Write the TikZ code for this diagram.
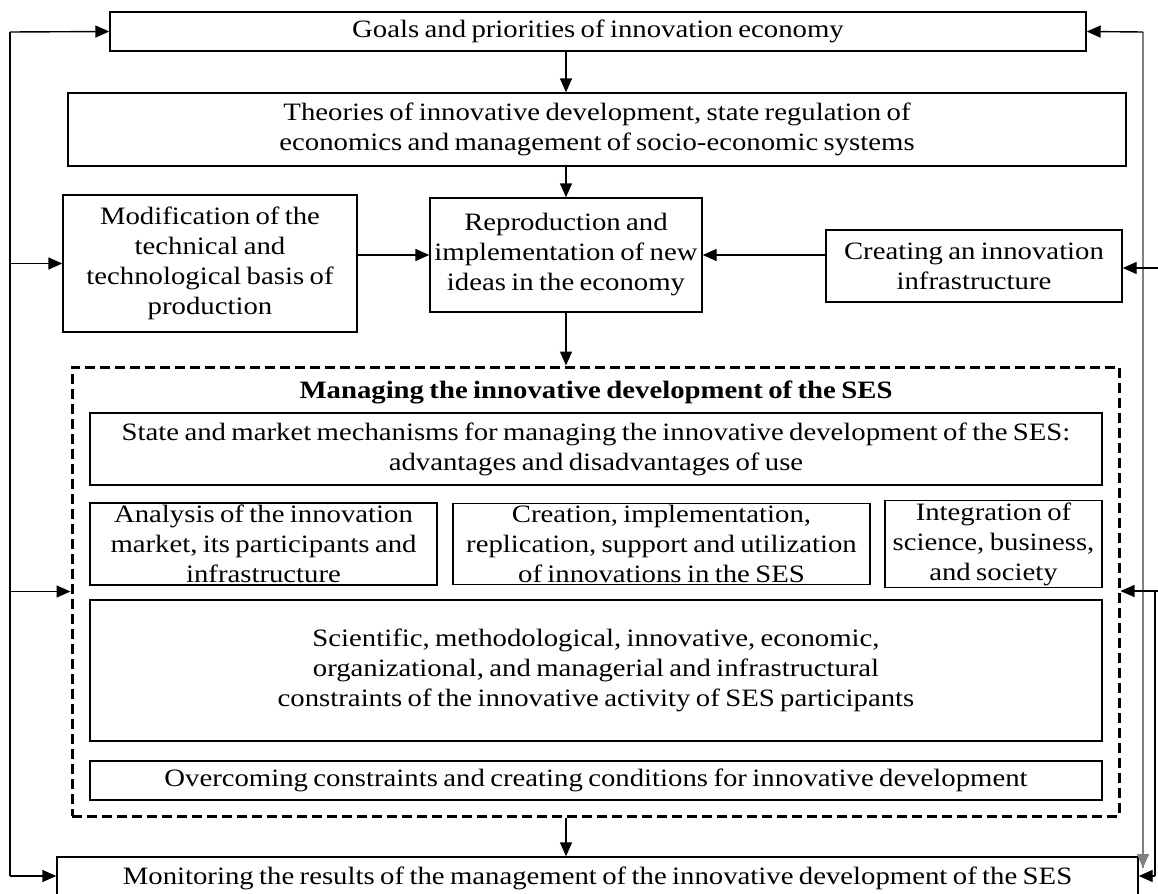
\documentclass[tikz,border=0pt]{standalone}
\usepackage{fontspec}
\setmainfont{Liberation Serif}[FakeStretch=1.15, WordSpace=0.75]
\usetikzlibrary{arrows.meta}
\newcommand{\pxu}{0.5pt}

\begin{document}
\begin{tikzpicture}[x=0.5pt, y=-0.5pt,
		every node/.style = {font=\fontsize{12.5}{15}\selectfont},
		blk/.style   = {draw, rectangle, line width=0.7pt, align=center, inner sep=1pt},
		grp/.style   = {draw, rectangle, line width=1.5pt, dash pattern=on 5pt off 2.5pt},
		arr/.style   = {-{Triangle[length=7pt, width=6pt]}, line width=0.7pt},
		bus/.style   = {line width=0.7pt},
		gbus/.style  = {line width=1pt, draw=gray}]
	\useasboundingbox (0,0) rectangle (1158,894);
	
	% top row
	\node[blk, minimum width=976*\pxu, minimum height=39*\pxu] (goals) at (598,31.5)
		{Goals and priorities of innovation economy};
	\node[blk, minimum width=1058*\pxu, minimum height=73*\pxu] (theories) at (597,129.5)
		{Theories of innovative development, state regulation of\\economics and management of socio-economic systems};
	
	% middle row
	\node[blk, minimum width=294*\pxu, minimum height=137*\pxu] (modif) at (210,263.5)
		{Modification of the\\technical and\\technological basis of\\production};
	\node[blk, minimum width=272*\pxu, minimum height=114*\pxu] (repro) at (566,255)
		{Reproduction and\\implementation of new\\ideas in the economy};
	\node[blk, minimum width=296*\pxu, minimum height=72*\pxu] (create) at (974,266)
		{Creating an innovation\\infrastructure};
	
	% the dashed group and its blocks
	\node[grp, minimum width=1047*\pxu, minimum height=449*\pxu] (manage) at (595.5,591.5) {};
	\node (title) at (596,392) {\bfseries Managing the innovative development of the SES};
	\node[blk, minimum width=1012*\pxu, minimum height=72*\pxu] (state) at (596,449)
		{State and market mechanisms for managing the innovative development of the SES:\\advantages and disadvantages of use};
	\node[blk, minimum width=347*\pxu, minimum height=78*\pxu] (analysis) at (263.5,544)
		{Analysis of the innovation\\market, its participants and\\infrastructure};
	\node[blk, minimum width=417*\pxu, minimum height=78*\pxu] (creation) at (661.5,544)
		{Creation, implementation,\\replication, support and utilization\\of innovations in the SES};
	\node[blk, minimum width=217*\pxu, minimum height=78*\pxu] (integ) at (993.5,544)
		{Integration of\\science, business,\\and society};
	\node[blk, minimum width=1012*\pxu, minimum height=141*\pxu] (constr) at (596,670.5)
		{Scientific, methodological, innovative, economic,\\organizational, and managerial and infrastructural\\constraints of the innovative activity of SES participants};
	\node[blk, minimum width=1012*\pxu, minimum height=39*\pxu] (overcome) at (596,780.5)
		{Overcoming constraints and creating conditions for innovative development};
	
	% bottom row
	\node[blk, minimum width=1081*\pxu, minimum height=42*\pxu] (monitor) at (597.5,878)
		{Monitoring the results of the management of the innovative development of the SES};
	
	% main flow
	\draw[arr] (goals.south -| repro.north) -- (theories.north -| repro.north);
	\draw[arr] (theories.south -| repro.north) -- (repro.north);
	\draw[arr] (modif.east |- repro.east) -- (repro.west);
	\draw[arr] (create.west |- repro.east) -- (repro.east);
	\draw[arr] (repro.south) -- (manage.north -| repro.south);
	\draw[arr] (manage.south -| repro.south) -- (monitor.north -| repro.south);
	
	% feedback on the left
	\coordinate (lt) at (10,32);
	\coordinate (lb) at (10,876);
	\draw[bus] (lt) -- (lb);
	\draw[arr] (lt) -- (goals.west);
	\draw[arr] (lt |- modif.west) -- (modif.west);
	\draw[arr] (lt |- manage.west) -- (manage.west);
	\draw[arr] (lb) -- (lb -| monitor.west);
	
	% feedback on the right
	\coordinate (rt) at (1143,32);
	\coordinate (rg) at (1143,868);
	\coordinate (rc) at (1158,268);
	\coordinate (rm) at (1155,591);
	\coordinate (rb) at (1155,876);
	\draw[gbus] (rt) -- (rg);
	\draw[arr] (rt) -- (goals.east);
	\draw[arr, draw=gray] (rt |- monitor.north) ++(0,-10) -- (rg);
	\draw[arr] (rc) -- (rc -| create.east);
	\draw[arr] (rm -| rc) -- (rm -| manage.east);
	\draw[bus] (rm) -- (rb);
	\draw[arr] (rb) -- (rb -| monitor.east);
\end{tikzpicture}
\end{document}
